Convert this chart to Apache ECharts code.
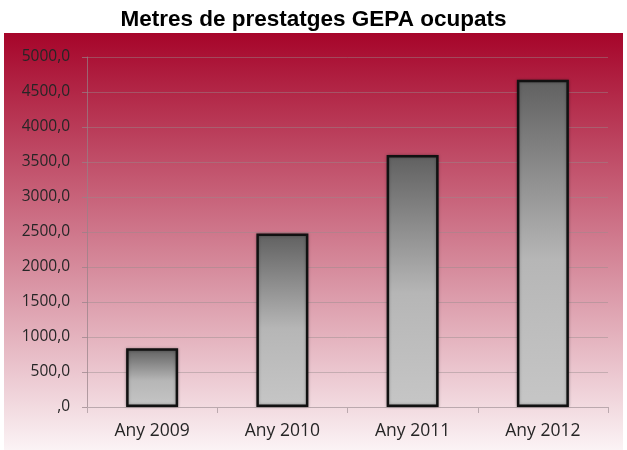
<!DOCTYPE html>
<html>
<head>
<meta charset="utf-8">
<script src="https://cdn.jsdelivr.net/npm/echarts@6/dist/echarts.min.js"></script>
<style>html,body{margin:0;padding:0;background:#fff}#c{width:627px;height:450px}</style>
</head>
<body>
<div id="c"></div>
<script>
const categories = ['Any 2009', 'Any 2010', 'Any 2011', 'Any 2012'];
const values = [838, 2480, 3600, 4676];
const chartTitle = 'Metres de prestatges GEPA ocupats';

const chart = echarts.init(document.getElementById('c'), null, {renderer: 'canvas'});
const barGrad = new echarts.graphic.LinearGradient(0, 0, 0, 1, [
  {offset: 0, color: '#606060'},
  {offset: 0.55, color: '#b6b6b6'},
  {offset: 1, color: '#c6c6c6'}
]);
chart.setOption({
  animation: false,
  backgroundColor: '#ffffff',
  title: {
    text: chartTitle, left: 'center', top: 3,
    textStyle: {fontFamily: 'Liberation Sans', fontWeight: 'bold', fontSize: 22.5, color: '#000'}
  },
  graphic: [{
    type: 'rect', z: -10, silent: true,
    shape: {x: 4, y: 33, width: 619, height: 417},
    style: {fill: new echarts.graphic.LinearGradient(0, 0, 0, 1, [
      {offset: 0, color: '#a6052a'},
      {offset: 1, color: '#fbf3f5'}
    ])}
  }],
  grid: {left: 87, right: 19, top: 57, bottom: 43, containLabel: false},
  xAxis: {
    type: 'category', data: categories,
    axisLine: {lineStyle: {color: '#bba9ae', width: 1}},
    axisTick: {show: true, alignWithLabel: false, length: 6, lineStyle: {color: '#bba9ae'}},
    axisLabel: {fontFamily: 'Open Sans', fontSize: 17.5, color: '#262626', margin: 15}
  },
  yAxis: {
    type: 'value', min: 0, max: 5000, interval: 500,
    axisLine: {show: true, lineStyle: {color: 'rgba(150,130,135,0.7)'}},
    axisTick: {show: true, length: 5, lineStyle: {color: 'rgba(150,130,135,0.7)'}},
    splitLine: {lineStyle: {color: 'rgba(150,140,140,0.45)', width: 1}},
    axisLabel: {
      fontFamily: 'Open Sans', fontSize: 15.5, color: '#262626', margin: 17,
      formatter: v => (v === 0 ? '' : String(v)) + ',0'
    }
  },
  series: [{
    type: 'bar', data: values, barWidth: 52,
    itemStyle: {color: barGrad, borderColor: '#111', borderWidth: 2.5,
      shadowColor: 'rgba(0,0,0,0.3)', shadowBlur: 3}
  }]
});
</script>
</body>
</html>
